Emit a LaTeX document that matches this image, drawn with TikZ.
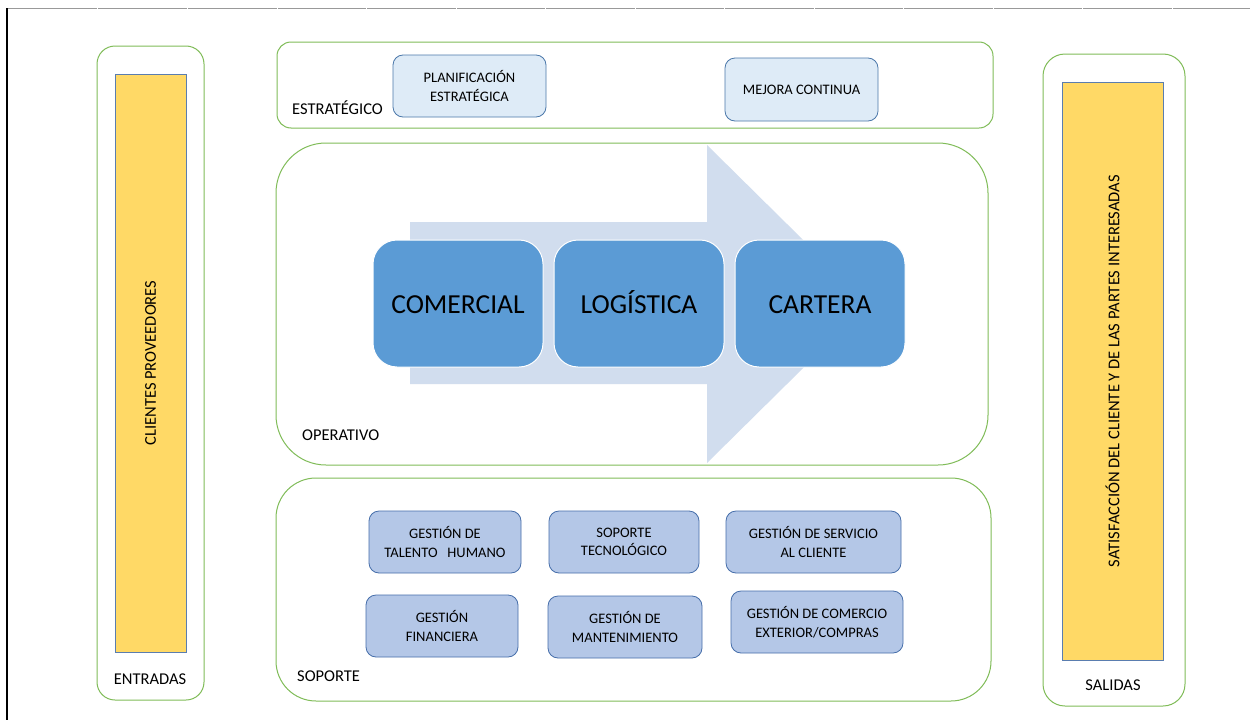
\documentclass[tikz,border=0pt]{standalone}
\usepackage{fontspec}
\setmainfont{Carlito}
\definecolor{zonegreen}{RGB}{128,188,88}
\definecolor{baryellow}{RGB}{255,217,102}
\definecolor{barline}{RGB}{90,125,175}
\definecolor{stratfill}{RGB}{222,235,247}
\definecolor{stratline}{RGB}{75,120,170}
\definecolor{opfill}{RGB}{91,155,213}
\definecolor{arrowfill}{RGB}{209,221,238}
\definecolor{supfill}{RGB}{180,199,231}
\definecolor{supline}{RGB}{70,110,170}
\tikzset{
  zone/.style={draw=zonegreen,line width=1pt,rounded corners=#1},
  zone/.default=16pt,
  bar/.style={draw=barline,fill=baryellow,line width=0.8pt},
  small/.style={font=\fontsize{14.5}{18.5}\selectfont,align=center},
  stratbox/.style={draw=stratline,fill=stratfill,rounded corners=10pt,line width=0.8pt,small},
  opbox/.style={draw=white,fill=opfill,rounded corners=24pt,line width=1pt,
    minimum width=170pt,minimum height=127pt,text height=19pt,text depth=0pt,
    font=\fontsize{27.5}{30}\selectfont},
  supbox/.style={draw=supline,fill=supfill,rounded corners=10pt,line width=0.8pt,small},
  zonelabel/.style={font=\fontsize{16.5}{18}\selectfont,inner sep=0pt},
  barlabel/.style={rotate=90,font=\fontsize{16.5}{18}\selectfont}
}
\begin{document}
\begin{tikzpicture}[x=1pt,y=-1pt]
\useasboundingbox (0,0) rectangle (1250,720);
\fill[white] (0,0) rectangle (1250,720);
% sheet borders
\draw[gray!80,line width=1.8pt] (7,8.5) -- (1250,8.5);
\foreach \x in {97,187,277,366,456,545,635,724,814,903,993,1082,1172} {
\draw[white,line width=0.8pt] (\x,7.5) -- (\x,9.5);
}
\draw[black,line width=1.2pt] (7,8) -- (7,720);
% entradas
\node[zone=18pt,minimum width=107pt,minimum height=654pt] (entradas) at (150.5,373) {};
\node[bar,minimum width=71pt,minimum height=578pt] (clientes) at (150.5,363) {};
\node[barlabel] at (clientes.center) {CLIENTES PROVEEDORES};
\node[zonelabel] (entlabel) at (150,679) {ENTRADAS};
% salidas
\node[zone=22pt,minimum width=142pt,minimum height=652pt] (salidas) at (1114,380) {};
\node[bar,minimum width=101pt,minimum height=578pt] (satisf) at (1112.5,371) {};
\node[barlabel] at (satisf.center) {SATISFACCIÓN DEL CLIENTE Y  DE LAS PARTES INTERESADAS};
\node[zonelabel] (sallabel) at (1113,685) {SALIDAS};
% estrategico
\node[zone=14pt,minimum width=716pt,minimum height=86pt] (estrategico) at (635,85) {};
\node[zonelabel,anchor=west] (estlabel) at (292,108) {ESTRATÉGICO};
\node[stratbox,minimum width=153pt,minimum height=62pt] (planif) at (469.5,86) {PLANIFICACIÓN\\ESTRATÉGICA};
\node[stratbox,minimum width=153pt,minimum height=63pt] (mejora) at (801.5,89.5) {MEJORA CONTINUA};
% operativo
\node[zone=50pt,minimum width=712pt,minimum height=322pt] (operativo) at (632,304) {};
\node[zonelabel,anchor=west] (oplabel) at (302,435) {OPERATIVO};
\fill[arrowfill] (410,222) -- (707,222) -- (707,145) -- (868,304) -- (707,463) -- (707,384) -- (410,384) -- cycle;
\node[opbox] (comercial) at (458,303.5) {COMERCIAL};
\node[opbox] (logistica) at (639,303.5) {LOGÍSTICA};
\node[opbox] (cartera) at (820,303.5) {CARTERA};
% soporte
\node[zone=40pt,minimum width=715pt,minimum height=223pt] (soporte) at (633.5,589.5) {};
\node[zonelabel,anchor=west] (soplabel) at (297,676) {SOPORTE};
\node[supbox,minimum width=152pt,minimum height=62pt] (talento) at (445,542) {GESTIÓN DE\\TALENTO~~~HUMANO};
\node[supbox,minimum width=150pt,minimum height=62pt] (tecno) at (624,542) {SOPORTE\\TECNOLÓGICO};
\node[supbox,minimum width=175pt,minimum height=62pt] (servicio) at (813.5,542) {GESTIÓN DE SERVICIO\\AL CLIENTE};
\node[supbox,minimum width=152pt,minimum height=62pt] (financiera) at (442,626) {GESTIÓN\\FINANCIERA};
\node[supbox,minimum width=154pt,minimum height=62pt] (manten) at (625,627) {GESTIÓN DE\\MANTENIMIENTO};
\node[supbox,minimum width=172pt,minimum height=62pt] (comex) at (817,622) {GESTIÓN DE COMERCIO\\EXTERIOR/COMPRAS};
\end{tikzpicture}
\end{document}
